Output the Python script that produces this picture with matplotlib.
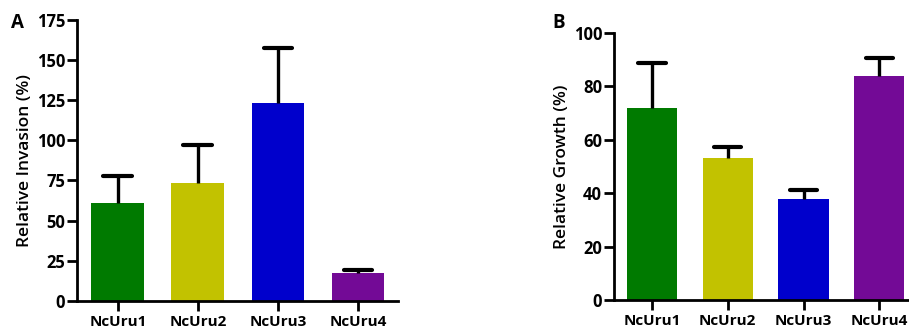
import matplotlib
matplotlib.use("Agg")
import matplotlib.pyplot as plt
import numpy as np

categories = ["NcUru1", "NcUru2", "NcUru3", "NcUru4"]
colors = ["#007a00", "#c2c200", "#0000cc", "#730a96"]

invasion_mean = [61.2, 73.1, 123.0, 17.5]
invasion_err = [16.3, 24.2, 34.7, 1.7]
invasion_ticks = [0, 25, 50, 75, 100, 125, 150, 175]

growth_mean = [71.9, 53.2, 37.9, 83.9]
growth_err = [16.6, 3.9, 3.4, 6.8]
growth_ticks = [0, 20, 40, 60, 80, 100]

plt.rcParams['font.family'] = ['Open Sans', 'DejaVu Sans']

fig = plt.figure(figsize=(9.09, 3.30), dpi=100)
axA = fig.add_axes([77/909, 29.3/330, 321/909, 280.7/330])
axB = fig.add_axes([614/909, 30/330, 303.2/909, 267.3/330])


def draw(ax, means, errs, ticks, ylabel, xlim):
    x = np.arange(len(categories))
    means = np.array(means)
    errs = np.array(errs)
    ax.bar(x, means, width=0.66, color=colors, zorder=2)
    tops = means + errs
    ax.vlines(x, means, tops, color='black', linewidth=2.4, zorder=3)
    ax.hlines(tops, x - 0.18, x + 0.18, color='black', linewidth=3.0,
              capstyle='round', zorder=3)
    ax.set_xlim(*xlim)
    ax.set_ylim(ticks[0], ticks[-1])
    ax.set_yticks(ticks)
    ax.set_xticks(x)
    ax.set_xticklabels(categories, fontsize=11, fontweight='bold')
    ax.set_yticklabels([str(t) for t in ticks], fontsize=12, fontweight='bold')
    ax.set_ylabel(ylabel, fontsize=12.5, fontweight='semibold', labelpad=3)
    for s in ['top', 'right']:
        ax.spines[s].set_visible(False)
    for s in ['left', 'bottom']:
        ax.spines[s].set_linewidth(2.0)
    ax.tick_params(axis='y', direction='out', length=7, width=2.0, pad=1.5)
    ax.tick_params(axis='x', direction='out', length=7, width=2.0, pad=3)
    ax.spines['bottom'].set_zorder(4)


draw(axA, invasion_mean, invasion_err, invasion_ticks, "Relative Invasion (%)", (-0.51, 3.5))
draw(axB, growth_mean, growth_err, growth_ticks, "Relative Growth (%)", (-0.5, 3.5))

fig.text(17/909, 1 - 23/330, "A", fontsize=13.5, fontweight='bold', ha='center', va='center')
fig.text(559/909, 1 - 23/330, "B", fontsize=13.5, fontweight='bold', ha='center', va='center')

fig.savefig("out.png", dpi=100)
